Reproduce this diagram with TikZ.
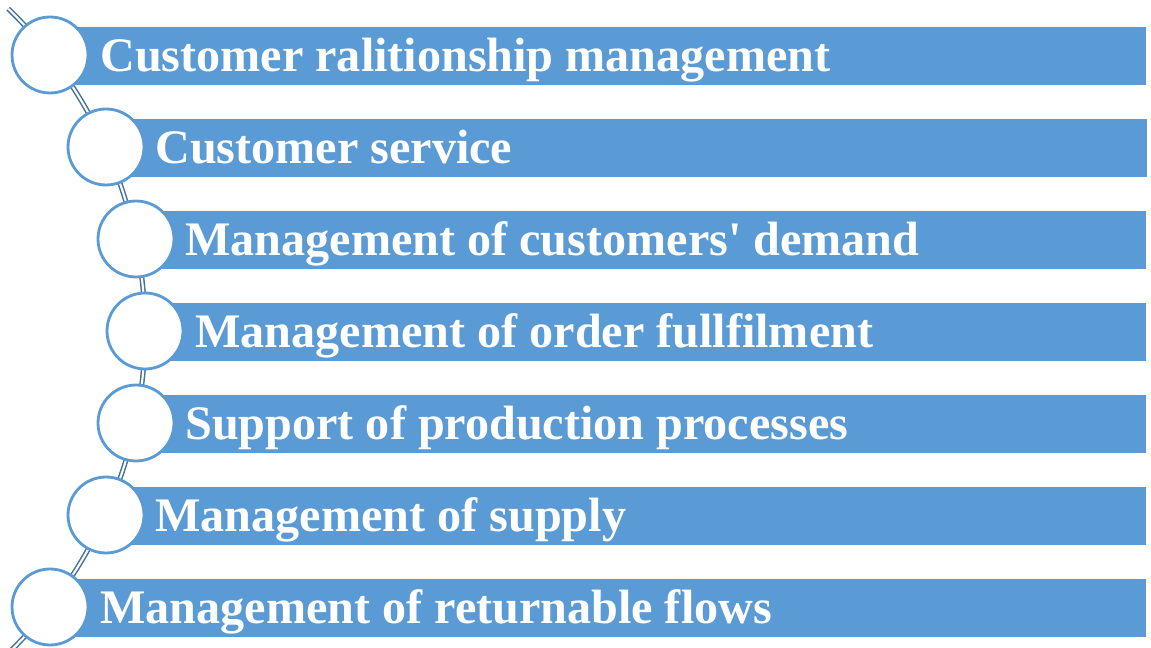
\documentclass[tikz,border=0pt]{standalone}
\usepackage{fontspec}
\setmainfont{Liberation Serif}
\usepackage{xcolor}
\usetikzlibrary{positioning}

\definecolor{barblue}{HTML}{5B9BD5}
\definecolor{spineblue}{HTML}{41719C}

\tikzset{
  band/.style = {fill=barblue, draw=none, anchor=west, minimum height=1.16cm, inner sep=0pt},
  bubble/.style = {circle, draw=barblue, line width=1.6pt, fill=white, minimum size=1.52cm, inner sep=0pt},
  entry/.style = {text=white, font=\fontsize{27.4}{30}\selectfont\bfseries, inner sep=0pt, anchor=base west},
  spine/.style = {draw=spineblue, double=white, double distance=1.2pt, line width=0.85pt}
}

\begin{document}
\begin{tikzpicture}[x=0.02cm, y=0.02cm]
  \useasboundingbox (0,0) rectangle (1151,648);

  % curved backbone behind the circles
  \draw[spine] (-303,317) ++(46:448) arc (46:-47:448);

  % bars
  \node (b1) [band, minimum width=21.92cm] at (50,592) {};
  \node (b2) [band, minimum width=20.82cm] at (106,500) {};
  \node (b3) [band, minimum width=20.20cm] at (136,408) {};
  \node (b4) [band, minimum width=20.02cm] at (145,316) {};
  \node (b5) [band, minimum width=20.20cm] at (136,224) {};
  \node (b6) [band, minimum width=20.80cm] at (106,132) {};
  \node (b7) [band, minimum width=21.92cm] at (50,40) {};

  % circles
  \node (c1) [bubble] at (50,593) {};
  \node (c2) [bubble] at (106,501) {};
  \node (c3) [bubble] at (136,409) {};
  \node (c4) [bubble] at (145,317) {};
  \node (c5) [bubble] at (136,225) {};
  \node (c6) [bubble] at (106,133) {};
  \node (c7) [bubble] at (50,41) {};

  % labels
  \node (t1) [entry] at (100,576) {Customer ralitionship management};
  \node (t2) [entry] at (155,484) {Customer service};
  \node (t3) [entry] at (185,392) {Management of customers\textquotesingle{} demand};
  \node (t4) [entry] at (195,300) {Management of order fullfilment};
  \node (t5) [entry] at (185,208) {Support of production processes};
  \node (t6) [entry] at (155,116) {Management of supply};
  \node (t7) [entry] at (100,24) {Management of returnable flows};
\end{tikzpicture}
\end{document}
